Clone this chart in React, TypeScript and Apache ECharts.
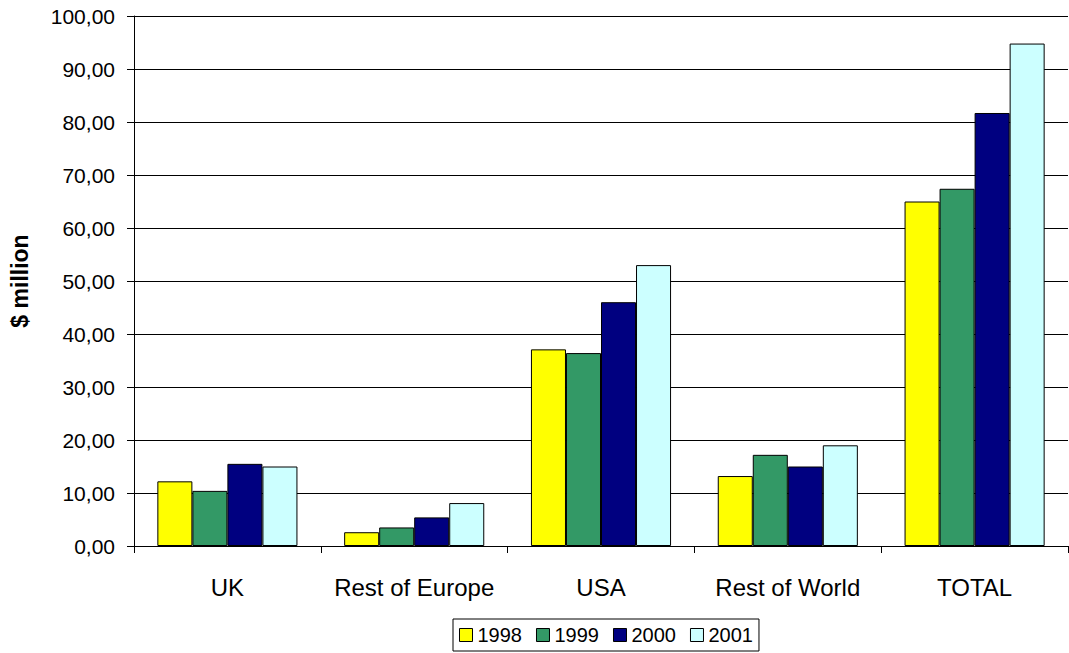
import React, { useEffect, useRef } from "react";
import * as echarts from "echarts";

const categories = ["UK", "Rest of Europe", "USA", "Rest of World", "TOTAL"];
const years = ["1998", "1999", "2000", "2001"];
const colors = ["#FFFF00", "#339966", "#000080", "#CCFFFF"];
const values1998 = [12.2, 2.6, 37.1, 13.2, 65.0];
const values1999 = [10.4, 3.5, 36.4, 17.2, 67.4];
const values2000 = [15.5, 5.4, 46.0, 15.0, 81.7];
const values2001 = [15.0, 8.1, 53.0, 19.0, 94.8];
const seriesValues = [values1998, values1999, values2000, values2001];

export default function App() {
  const ref = useRef<HTMLDivElement>(null);
  useEffect(() => {
    if (!ref.current) return;
    const chart = echarts.init(ref.current, null, { renderer: "svg" });
    const font = "Liberation Sans, Arial, sans-serif";
    chart.setOption({
      animation: false,
      textStyle: { fontFamily: font },
      grid: { left: 129, right: 1, top: 16, bottom: 107, containLabel: false },
      legend: {
        left: 453,
        top: 619,
        orient: "horizontal",
        itemWidth: 13,
        itemHeight: 13,
        itemGap: 14,
        padding: [6, 6, 6, 6],
        borderColor: "#000",
        borderWidth: 1,
        icon: "rect",
        textStyle: { fontSize: 20, color: "#000", fontFamily: font },
        itemStyle: { borderColor: "#000", borderWidth: 1 },
        data: years,
      },
      xAxis: {
        type: "category",
        data: categories,
        axisLine: { lineStyle: { color: "#000", width: 1 } },
        axisTick: { show: true, length: 7, lineStyle: { color: "#000" } },
        axisLabel: { interval: 0, fontSize: 24, color: "#000", margin: 29, fontFamily: font },
        splitLine: { show: false },
      },
      yAxis: {
        type: "value",
        min: 0,
        max: 100,
        interval: 10,
        name: "$ million",
        nameLocation: "middle",
        nameGap: 103,
        nameTextStyle: { fontSize: 23, fontWeight: "bold", color: "#000", fontFamily: font },
        axisLine: { show: true, lineStyle: { color: "#000", width: 1 } },
        axisTick: { show: true, length: 7, lineStyle: { color: "#000" } },
        axisLabel: {
          fontSize: 21,
          color: "#000",
          margin: 19,
          fontFamily: font,
          formatter: (v: number) => v.toFixed(2).replace(".", ","),
        },
        splitLine: { show: true, lineStyle: { color: "#000", width: 1 } },
      },
      series: years.map((y, i) => ({
        name: y,
        type: "bar",
        data: seriesValues[i],
        barCategoryGap: "25%",
        barGap: "0%",
        itemStyle: { color: colors[i], borderColor: "#000", borderWidth: 1 },
      })),
    });
    return () => chart.dispose();
  }, []);
  return (
    <div
      ref={ref}
      style={{ position: "absolute", left: 0, top: 0, width: 1069, height: 653 }}
    />
  );
}
